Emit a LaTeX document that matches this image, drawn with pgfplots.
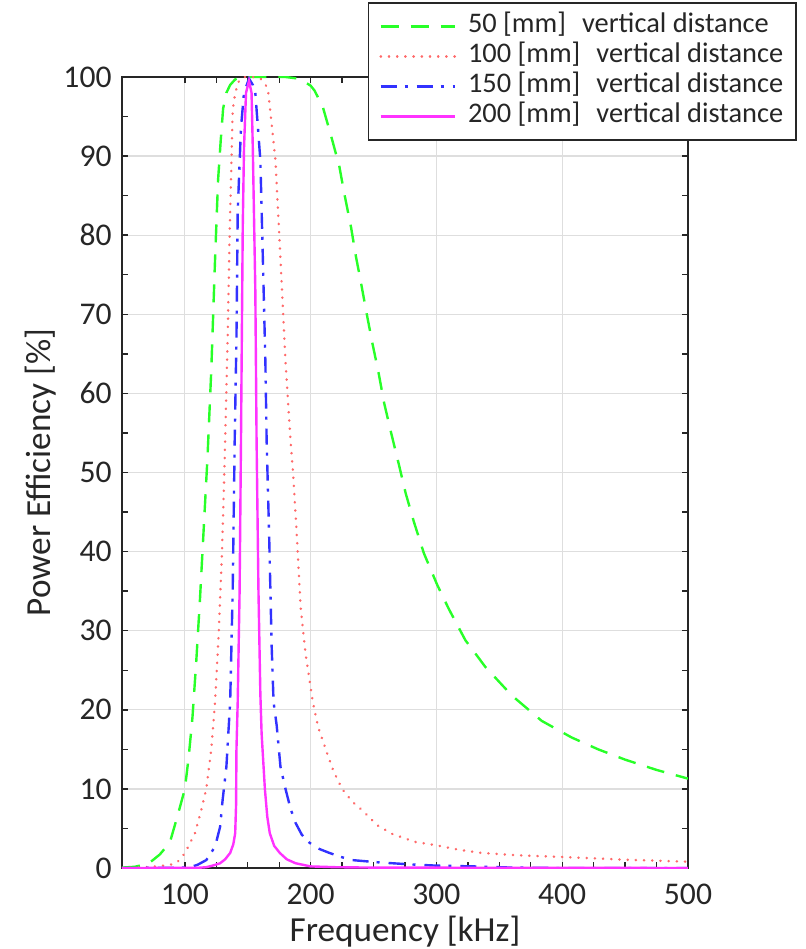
\documentclass[border=0pt]{standalone}
\usepackage{fontspec}
\setmainfont{Carlito}
\usepackage{pgfplots}
\pgfplotsset{compat=1.18}
\definecolor{cgreen}{RGB}{40,255,40}
\definecolor{cred}{RGB}{255,105,105}
\definecolor{cblue}{RGB}{50,50,255}
\definecolor{cmag}{RGB}{255,50,255}
\definecolor{axgray}{RGB}{38,38,38}
\definecolor{gridgray}{RGB}{222,222,222}
\begin{document}
\begin{tikzpicture}
\path[use as bounding box] (-61pt,-40.5pt) rectangle (342pt,434pt);
\begin{axis}[
  at={(0,0)}, anchor=south west,
  scale only axis, width=283pt, height=395.5pt,
  xmin=50, xmax=500, ymin=0, ymax=100,
  xtick={100,200,300,400,500},
  ytick={0,10,...,100},
  minor x tick num=3, minor y tick num=1,
  tick align=inside,
  major tick length=3pt, minor tick length=3pt,
  xtick pos=both, ytick pos=both,
  grid=major,
  major grid style={gridgray, line width=0.6pt},
  axis line style={axgray, line width=0.8pt},
  every tick/.style={axgray, line width=0.7pt},
  /pgf/number format/assume math mode=true,
  ticklabel style={font=\fontsize{15.8}{18}\selectfont, text=axgray},
  xticklabel style={yshift=-4.7pt},
  yticklabel style={xshift=-1.7pt},
  xlabel={Frequency [kHz]},
  ylabel={Power Efficiency [\%]},
  label style={font=\fontsize{17.6}{20}\selectfont, text=axgray, inner sep=0pt},
  xlabel style={at={(axis description cs:0.5,-0.0923)}, anchor=base},
  ylabel style={at={(axis description cs:-0.1272,0.5)}, anchor=base, rotate=0},
  legend style={at={(1.1926,1.0948)}, anchor=north east,
    draw=axgray, line width=0.8pt, fill=white,
    font=\fontsize{14.2}{15}\selectfont, text=axgray,
    inner xsep=5.5pt, inner ysep=5.5pt,
    row sep=2.5pt,
    /tikz/every odd column/.append style={column sep=5pt},
    nodes={inner sep=1pt, text height=8.5pt, text depth=2pt, anchor=west}},
  legend cell align=left,
  legend image code/.code={\draw[#1] (0pt,0pt) -- (37pt,0pt);},
]
\addplot[cgreen, line width=1.2pt, dash pattern=on 9pt off 6pt] coordinates {
(50,0.05) (60,0.15) (67,0.4) (73,0.8) (80,1.7) (88,3.2) (94,6.5) (100,10)
(103,14) (106,19) (109,26) (112,34) (115,43) (118,52) (121,63) (124,77)
(126.4,87) (128.5,92) (130.4,96) (133,98) (136,99) (140,99.7) (145,100)
(150,100) (160,100) (170,100) (180,100) (190,99.8) (195,99.4) (200,98.9) (203,98.3)
(209.5,96.3) (216,92.7) (222.8,88.7) (226.7,85.3) (232,81.1) (236,77.3)
(240,74) (244.4,70.2) (249,66.4) (254,62.6) (258.4,58.8) (264,55) (270,51.1)
(275.5,47.4) (282,43.8) (290,39.8) (300.6,35.8) (310,32.7) (323,28.8)
(339,25.4) (360,21.8) (383.7,18.6) (407.5,16.5) (428.6,15) (450,13.7)
(475,12.4) (500,11.3)
};
\addlegendentry{50 [mm]\hspace{8pt}vertical distance}
\addplot[cred, line width=1.3pt, line cap=round, dash pattern=on 0.1pt off 4pt] coordinates {
(50,0) (60,0.05) (70,0.1) (80,0.25) (88,0.4) (93,0.6) (98,1.4) (102,2.5)
(108,4.4) (113,7.3) (117,10) (121,15) (124,21) (127,30) (129.5,40) (131,48)
(132,54) (134,67) (135.7,81) (137,89) (138,95.8) (140,98) (143,99.5)
(147,100) (152,100) (157,100) (160,99.8) (163,99.3) (166,98.5) (172,89.5)
(176,77) (180,64) (184,54) (186,50) (189,42) (192,33) (196,27) (201.7,21)
(206,17.8) (212,15) (218,12.3) (225,10) (233,8.4) (241,7.3) (253,5.4)
(265,4.3) (283,3.3) (299,2.9) (318,2.3) (336,1.9) (365,1.6) (399,1.4)
(450,1.05) (500,0.8)
};
\addlegendentry{100 [mm]\hspace{8pt}vertical distance}
\addplot[cblue, line width=1.2pt, dash pattern=on 8pt off 4pt on 1.5pt off 4.5pt] coordinates {
(50,0) (90,0.02) (100,0.05) (104,0.1) (110,0.4) (117,1) (124,2.7) (128,5.2)
(130,8.6) (133,12.8) (136,21) (138,35) (139.6,54) (141,67) (142,83)
(144.6,93.6) (147,98) (151,99.8) (154,99) (156,98) (160,89.5) (162,77)
(164,64) (165,54) (167,42) (169,28) (170.5,21) (173,18) (176,12.8) (180,10)
(184,7.5) (188,5.7) (193,4.2) (199,3.2) (207,2.4) (215,1.9) (224,1.4)
(233,1) (255,0.7) (280,0.45) (300,0.3) (330,0.2) (360,0.05) (400,0) (500,0)
};
\addlegendentry{150 [mm]\hspace{8pt}vertical distance}
\addplot[cmag, line width=1.2pt] coordinates {
(50,0) (110,0.02) (117,0.1) (122,0.3) (128,0.6) (132,1.1) (136,1.9)
(138.5,3) (140,4.4) (140.7,8) (141,15) (142,21) (143.5,35) (144.6,54)
(146,81) (147,91) (148.6,98) (151,99.5) (153,98) (154,91) (155,82) (156,73)
(157,54) (158.5,35) (160,22) (161,17) (163.6,10) (165.5,6.5) (167.5,4.4)
(171,2.8) (175.5,1.9) (181,1.1) (188,0.6) (200,0.2) (220,0.1) (250,0.05)
(500,0)
};
\addlegendentry{200 [mm]\hspace{8pt}vertical distance}
\end{axis}
\end{tikzpicture}
\end{document}
